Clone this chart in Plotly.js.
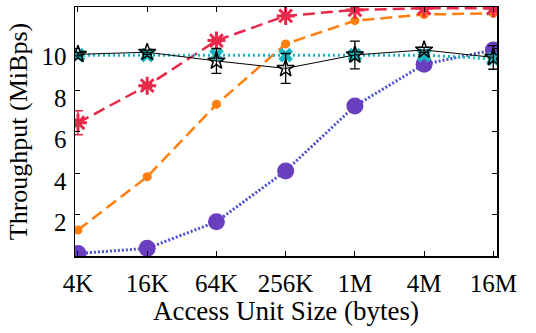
<!DOCTYPE html>
<html>
<head>
<meta charset="utf-8">
<script src="https://cdn.plot.ly/plotly-3.0.1.min.js"></script>
<style>html,body{margin:0;padding:0;background:#fff;}#chart{width:536px;height:333px;}</style>
</head>
<body>
<div id="chart"></div>
<script>
const sizes = ["4K", "16K", "64K", "256K", "1M", "4M", "16M"];
const xIdx = [0, 1, 2, 3, 4, 5, 6];
const redVals = [6.42, 8.21, 10.38, 11.57, 11.86, 11.94, 11.94];
const redErr = [0.58, 0.08, 0.08, 0.05, 0.05, 0.05, 0.05];
const orangeVals = [1.25, 3.82, 7.31, 10.22, 11.34, 11.64, 11.69];
const orangeErr = [0.05, 0.08, 0.08, 0.08, 0.05, 0.05, 0.05];
const blackVals = [9.72, 9.82, 9.40, 9.04, 9.69, 9.93, 9.57];
const blackErr = [0.08, 0.1, 0.6, 0.72, 0.67, 0.12, 0.57];
const tealVals = [9.68, 9.68, 9.68, 9.68, 9.68, 9.68, 9.5];
const purpleVals = [0.12, 0.37, 1.65, 4.10, 7.23, 9.24, 9.93];
const purpleErr = [0.05, 0.05, 0.08, 0.08, 0.1, 0.1, 0.22];
const yTicks = [2, 4, 6, 8, 10];

const FONT = "Liberation Serif, Times New Roman, serif";

const traces = [
  {
    x: xIdx, y: purpleVals, type: "scatter", mode: "lines+markers",
    line: {color: "#4b4fd6", width: 3, dash: "2px,2px"},
    marker: {symbol: "circle", size: 17, color: "#6a3fbf"},
    error_y: {type: "data", array: purpleErr, visible: true, color: "#1f6fd0", thickness: 1.5, width: 4}
  },
  {
    x: xIdx, y: orangeVals, type: "scatter", mode: "lines+markers",
    line: {color: "#ff7f0e", width: 2.5, dash: "12px,6px"},
    marker: {symbol: "circle", size: 9, color: "#ff7f0e"},
    error_y: {type: "data", array: orangeErr, visible: true, color: "#ff7f0e", thickness: 1.5, width: 4}
  },
  {
    x: xIdx, y: redVals, type: "scatter", mode: "lines+markers",
    line: {color: "#e8294a", width: 2.5, dash: "12px,6px"},
    marker: {symbol: "asterisk-open", size: 15, color: "#e8294a", line: {color: "#e8294a", width: 3}},
    error_y: {type: "data", array: redErr, visible: true, color: "#e8294a", thickness: 1.5, width: 5}
  },
  {
    x: xIdx, y: tealVals, type: "scatter", mode: "lines+markers",
    line: {color: "#17b6c2", width: 3, dash: "2px,3px"},
    marker: {symbol: "x", size: 13, color: "#17b6c2"}
  },
  {
    x: xIdx, y: blackVals, type: "scatter", mode: "lines+markers",
    line: {color: "#000000", width: 1},
    marker: {symbol: "star-open", size: 13, color: "#000000", line: {color: "#000000", width: 1.5}},
    error_y: {type: "data", array: blackErr, visible: true, color: "#000000", thickness: 1.3, width: 5}
  }
];

const layout = {
  width: 536, height: 333,
  margin: {l: 75, r: 39, t: 7, b: 77},
  paper_bgcolor: "#ffffff", plot_bgcolor: "#ffffff",
  showlegend: false,
  font: {family: FONT, color: "#000", size: 25},
  xaxis: {
    range: [-0.043, 6.053],
    tickvals: xIdx, ticktext: sizes,
    ticks: "inside", ticklen: 5, tickwidth: 1, tickcolor: "#000",
    showline: true, linecolor: "#000", linewidth: 1.5, mirror: "ticks",
    showgrid: false, zeroline: false,
    tickfont: {family: FONT, size: 25, color: "#000"},
    ticklabelstandoff: 4,
    title: {text: "Access Unit Size (bytes)", font: {family: FONT, size: 27, color: "#000"}, standoff: 2}
  },
  yaxis: {
    range: [0, 12],
    tickvals: yTicks, ticktext: yTicks.map(String),
    ticks: "inside", ticklen: 5, tickwidth: 1, tickcolor: "#000",
    showline: true, linecolor: "#000", linewidth: 1.5, mirror: "ticks",
    showgrid: false, zeroline: false,
    tickfont: {family: FONT, size: 25, color: "#000"},
    ticklabelstandoff: 2,
    ticklabelshift: 8,
    title: {text: "Throughput (MiBps)", font: {family: FONT, size: 26, color: "#000"}, standoff: 6}
  }
};

Plotly.newPlot("chart", traces, layout, {displayModeBar: false, staticPlot: true});
</script>
</body>
</html>
